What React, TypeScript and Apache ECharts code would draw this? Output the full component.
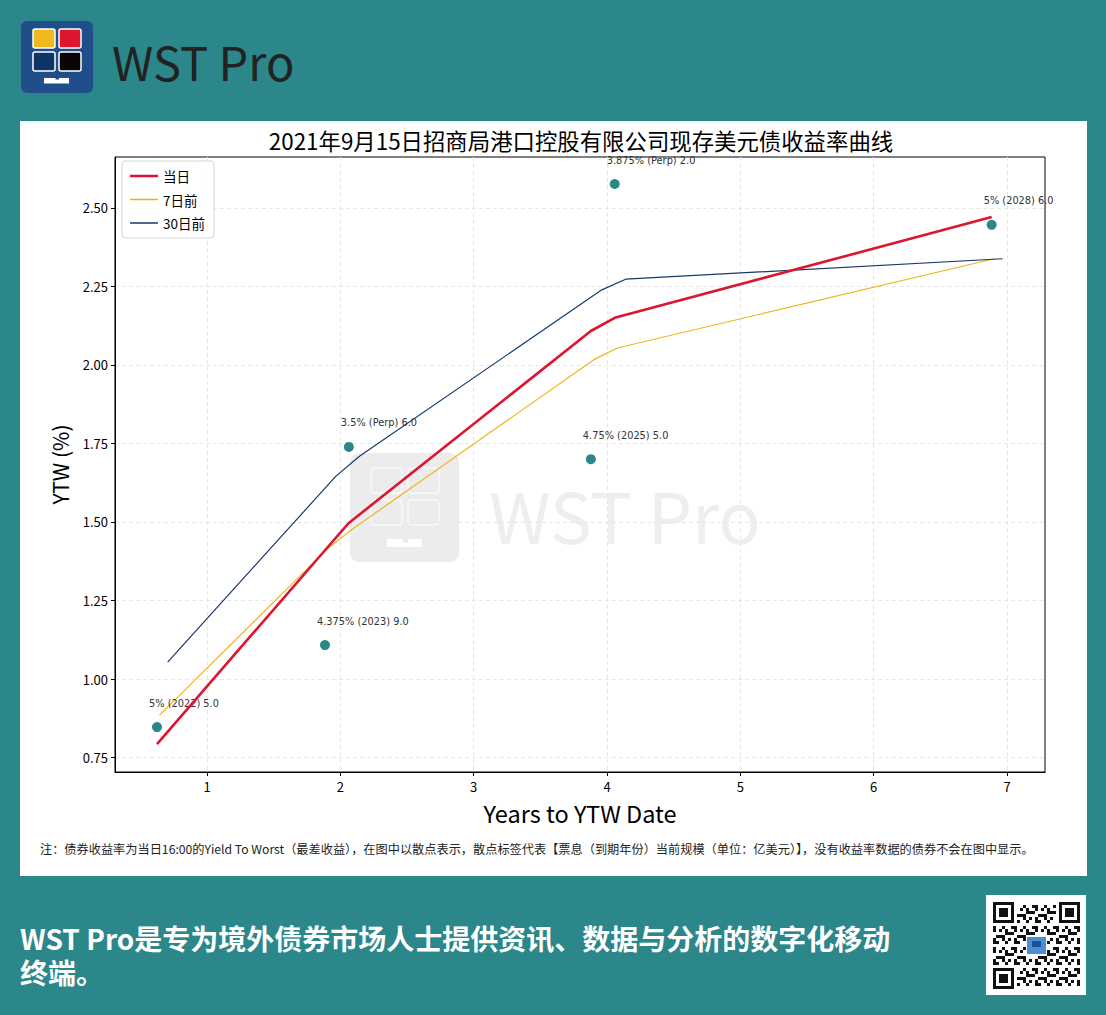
import React, { useEffect, useRef } from "react";
import * as echarts from "echarts";

const TITLE = "2021年9月15日招商局港口控股有限公司现存美元债收益率曲线";
const seriesNames = ["当日", "7日前", "30日前"];
const todayX = [0.625, 1.885, 2.064, 3.879, 4.058, 6.885];
const todayY = [0.793, 1.41, 1.497, 2.108, 2.15, 2.471];
const weekX = [0.644, 1.904, 2.083, 3.898, 4.077, 6.904];
const weekY = [0.885, 1.415, 1.475, 2.016, 2.054, 2.338];
const monthX = [0.705, 1.967, 2.146, 3.961, 4.14, 6.967];
const monthY = [1.054, 1.646, 1.71, 2.239, 2.273, 2.338];
const bondLabels = [
  "5% (2022) 5.0",
  "4.375% (2023) 9.0",
  "3.5% (Perp) 6.0",
  "4.75% (2025) 5.0",
  "3.875% (Perp) 2.0",
  "5% (2028) 6.0",
];
const bondX = [0.625, 1.885, 2.064, 3.879, 4.058, 6.885];
const bondY = [0.847, 1.108, 1.739, 1.7, 2.576, 2.446];
const xTicks = [1, 2, 3, 4, 5, 6, 7];
const yTicks = [0.75, 1.0, 1.25, 1.5, 1.75, 2.0, 2.25, 2.5];
const NOTE =
  "注：债券收益率为当日16:00的Yield To Worst（最差收益），在图中以散点表示，散点标签代表【票息（到期年份）当前规模（单位：亿美元）】，没有收益率数据的债券不会在图中显示。";
const SLOGAN1 = "WST Pro是专为境外债券市场人士提供资讯、数据与分析的数字化移动";
const SLOGAN2 = "终端。";
const BRAND = "WST Pro";

const FONT = "'Noto Sans CJK SC', 'Noto Sans', sans-serif";
const TEAL = "#2b878a";

// legend icons: invisible hairlines at top/bottom fix the box, middle bar is the line
const ICON_THICK = "path://M0,0H28V0.01H0Z M0,5.7H28V8.3H0Z M0,13.99H28V14H0Z";
const ICON_THIN = "path://M0,0H28V0.01H0Z M0,6.3H28V7.7H0Z M0,13.99H28V14H0Z";

function zip(xs: number[], ys: number[]) {
  return xs.map((x, i) => [x, ys[i]]);
}

function qrElements() {
  const n = 29;
  const m = 3;
  const x0 = 993;
  const y0 = 902;
  const els: any[] = [];
  const inFinder = (i: number, j: number) =>
    (i < 8 && j < 8) || (i < 8 && j >= n - 8) || (i >= n - 8 && j < 8);
  for (let i = 0; i < n; i++) {
    for (let j = 0; j < n; j++) {
      if (inFinder(i, j)) continue;
      if (i >= 11 && i <= 17 && j >= 11 && j <= 17) continue;
      const on = (i * i * 3 + j * 7 + i * j * 5 + 11) % 7 < 3;
      if (on) {
        els.push({
          type: "rect",
          shape: { x: x0 + j * m, y: y0 + i * m, width: m, height: m },
          style: { fill: "#111" },
        });
      }
    }
  }
  const finder = (ci: number, cj: number) => {
    const x = x0 + cj * m;
    const y = y0 + ci * m;
    els.push({ type: "rect", shape: { x, y, width: 7 * m, height: 7 * m }, style: { fill: "#111" } });
    els.push({ type: "rect", shape: { x: x + m, y: y + m, width: 5 * m, height: 5 * m }, style: { fill: "#fff" } });
    els.push({ type: "rect", shape: { x: x + 2 * m, y: y + 2 * m, width: 3 * m, height: 3 * m }, style: { fill: "#111" } });
  };
  finder(0, 0);
  finder(0, n - 7);
  finder(n - 7, 0);
  els.push({
    type: "rect",
    shape: { x: x0 + 11 * m + 1, y: y0 + 11 * m + 2, width: 7 * m - 2, height: 7 * m - 4 },
    style: { fill: "#4a8fd0" },
  });
  els.push({
    type: "rect",
    shape: { x: x0 + 13 * m, y: y0 + 13 * m, width: 3 * m, height: 2 * m },
    style: { fill: "#1d4f9a" },
  });
  return els;
}

export default function App() {
  const ref = useRef<HTMLDivElement>(null);
  useEffect(() => {
    if (!ref.current) return;
    const chart = echarts.init(ref.current, null, { renderer: "svg" });
    const graphic: any[] = [
      // white panel
      { type: "rect", z: -20, shape: { x: 20, y: 121, width: 1067, height: 755 }, style: { fill: "#fff" } },
      // header logo
      { type: "rect", shape: { x: 21, y: 21, width: 72, height: 72, r: 6 }, style: { fill: "#1f4e8a" } },
      { type: "rect", shape: { x: 33, y: 29, width: 22, height: 19, r: 2 }, style: { fill: "#efb81d", stroke: "#fff", lineWidth: 1.5 } },
      { type: "rect", shape: { x: 59, y: 29, width: 22, height: 19, r: 2 }, style: { fill: "#df172e", stroke: "#fff", lineWidth: 1.5 } },
      { type: "rect", shape: { x: 33, y: 52, width: 22, height: 19, r: 2 }, style: { fill: "#0d3567", stroke: "#fff", lineWidth: 1.5 } },
      { type: "rect", shape: { x: 59, y: 52, width: 22, height: 19, r: 2 }, style: { fill: "#0a0506", stroke: "#fff", lineWidth: 1.5 } },
      { type: "rect", shape: { x: 44, y: 78, width: 25, height: 5.5 }, style: { fill: "#fff" } },
      { type: "rect", shape: { x: 55.5, y: 77.5, width: 3.5, height: 2 }, style: { fill: "#1f4e8a" } },
      {
        type: "text",
        x: 112,
        y: 60,
        style: { text: BRAND, fill: "#222", font: `normal 47px ${FONT}`, textVerticalAlign: "middle" },
      },
      // watermark
      { type: "rect", z: -10, shape: { x: 350, y: 453, width: 109, height: 109, r: 9 }, style: { fill: "#ececec" } },
      { type: "rect", z: -10, shape: { x: 371, y: 468, width: 31, height: 25, r: 3 }, style: { fill: "#ececec", stroke: "#fff", lineWidth: 1 } },
      { type: "rect", z: -10, shape: { x: 408, y: 468, width: 31, height: 25, r: 3 }, style: { fill: "#ececec", stroke: "#fff", lineWidth: 1 } },
      { type: "rect", z: -10, shape: { x: 371, y: 500, width: 31, height: 25, r: 3 }, style: { fill: "#ececec", stroke: "#fff", lineWidth: 1 } },
      { type: "rect", z: -10, shape: { x: 408, y: 500, width: 31, height: 25, r: 3 }, style: { fill: "#ececec", stroke: "#fff", lineWidth: 1 } },
      { type: "rect", z: -10, shape: { x: 387, y: 539, width: 35, height: 8 }, style: { fill: "#fff" } },
      { type: "rect", z: -10, shape: { x: 403, y: 538.5, width: 5, height: 4 }, style: { fill: "#ececec" } },
      {
        type: "text",
        z: -10,
        x: 489,
        y: 513,
        style: { text: BRAND, fill: "#eeeeee", font: `normal 70px ${FONT}`, textVerticalAlign: "middle" },
      },
      // note
      {
        type: "text",
        x: 40,
        y: 849,
        style: { text: NOTE, fill: "#222", font: `normal 12.2px ${FONT}`, textVerticalAlign: "middle" },
      },
      // slogan (two lines in one text)
      {
        type: "text",
        x: 20,
        y: 921,
        style: {
          text: SLOGAN1 + "\n" + SLOGAN2,
          fill: "#fff",
          font: `bold 28px ${FONT}`,
          lineHeight: 34,
          textVerticalAlign: "top",
        },
      },
      // QR box
      { type: "rect", shape: { x: 986, y: 895, width: 100, height: 100 }, style: { fill: "#fff" } },
      ...qrElements(),
    ];

    const lineCommon = { type: "line", symbol: "none", showSymbol: false, z: 3 };
    chart.setOption({
      animation: false,
      backgroundColor: "transparent",
      textStyle: { fontFamily: FONT },
      title: {
        text: TITLE,
        left: 576,
        top: 124,
        textAlign: "center",
        textStyle: { fontSize: 22.4, fontWeight: "normal", color: "#000", fontFamily: FONT },
      },
      legend: {
        data: [
          { name: seriesNames[0], icon: ICON_THICK, itemStyle: { color: "#dc1530" } },
          { name: seriesNames[1], icon: ICON_THIN, itemStyle: { color: "#f0b000" } },
          { name: seriesNames[2], icon: ICON_THIN, itemStyle: { color: "#163a6b" } },
        ],
        orient: "vertical",
        left: 122,
        top: 161,
        padding: [8, 9, 8, 8],
        itemGap: 9.5,
        itemWidth: 28,
        itemHeight: 14,
        borderColor: "#d5d5d5",
        borderWidth: 1,
        borderRadius: 3,
        backgroundColor: "rgba(255,255,255,0.85)",
        textStyle: { fontSize: 13.5, color: "#000", fontFamily: FONT },
      },
      grid: {
        left: 115,
        top: 157,
        right: 61,
        bottom: 243,
        show: true,
        borderColor: "#000",
        borderWidth: 1,
        backgroundColor: "transparent",
      },
      xAxis: {
        type: "value",
        min: 0.31,
        max: 7.285,
        name: "Years to YTW Date",
        nameLocation: "middle",
        nameGap: 29,
        nameTextStyle: { fontSize: 23.5, color: "#000", fontFamily: FONT },
        axisLine: { show: true, onZero: false, lineStyle: { color: "#000" } },
        axisTick: { show: true, length: 4, customValues: xTicks, lineStyle: { color: "#000" } },
        axisLabel: {
          customValues: xTicks,
          fontSize: 13,
          color: "#000",
          margin: 8,
          formatter: (v: number) => String(v),
        },
        splitLine: { show: true, lineStyle: { color: "#e6e6e6", type: [4, 3] } },
      },
      yAxis: {
        type: "value",
        min: 0.704,
        max: 2.662,
        name: "YTW (%)",
        nameLocation: "middle",
        nameRotate: 90,
        nameGap: 45,
        nameTextStyle: { fontSize: 21, color: "#000", fontFamily: FONT },
        axisLine: { show: true, onZero: false, lineStyle: { color: "#000" } },
        axisTick: { show: true, length: 4, customValues: yTicks, lineStyle: { color: "#000" } },
        axisLabel: {
          customValues: yTicks,
          fontSize: 13,
          color: "#000",
          margin: 7,
          formatter: (v: number) => v.toFixed(2),
        },
        splitLine: { show: true, lineStyle: { color: "#e6e6e6", type: [4, 3] } },
      },
      graphic,
      series: [
        {
          ...lineCommon,
          name: seriesNames[0],
          data: zip(todayX, todayY),
          lineStyle: { color: "#dc1530", width: 2.6 },
          itemStyle: { color: "#dc1530" },
          z: 5,
        },
        {
          ...lineCommon,
          name: seriesNames[1],
          data: zip(weekX, weekY),
          lineStyle: { color: "#efb51d", width: 1.2 },
          itemStyle: { color: "#efb51d" },
        },
        {
          ...lineCommon,
          name: seriesNames[2],
          data: zip(monthX, monthY),
          lineStyle: { color: "#163a6b", width: 1.2 },
          itemStyle: { color: "#163a6b" },
        },
        {
          type: "scatter",
          name: "bonds",
          symbolSize: 10,
          itemStyle: { color: "#2b878a", opacity: 1 },
          z: 4,
          data: bondX.map((x, i) => ({ value: [x, bondY[i]], name: bondLabels[i] })),
          label: {
            show: true,
            formatter: "{b}",
            position: [-3, -19],
            align: "left",
            verticalAlign: "middle",
            fontSize: 9.8,
            color: "#333",
            fontFamily: "'DejaVu Sans', sans-serif",
          },
        },
      ],
    });
    return () => chart.dispose();
  }, []);

  return (
    <div style={{ position: "absolute", left: 0, top: 0, width: 1106, height: 1015, background: TEAL }}>
      <div ref={ref} style={{ position: "absolute", left: 0, top: 0, width: 1106, height: 1015 }} />
    </div>
  );
}
